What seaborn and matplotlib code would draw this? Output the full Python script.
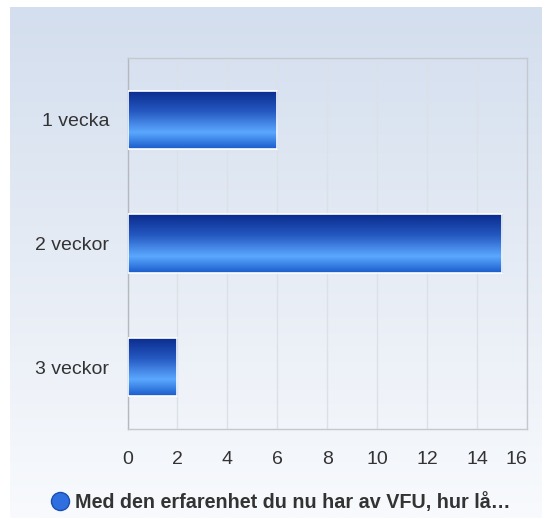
import matplotlib
matplotlib.use("Agg")
import matplotlib.pyplot as plt
import numpy as np
import pandas as pd
import seaborn as sns
from matplotlib.colors import LinearSegmentedColormap
from matplotlib.lines import Line2D

categories = ["1 vecka", "2 veckor", "3 veckor"]
counts = [6, 15, 2]
series_name = "Med den erfarenhet du nu har av VFU, hur lå…"
x_ticks = [0, 2, 4, 6, 8, 10, 12, 14, 16]

W, H = 542, 518

sns.set_theme(style="white")
plt.rcParams["font.family"] = ["Liberation Sans", "DejaVu Sans"]

fig = plt.figure(figsize=(W / 100, H / 100), dpi=100)
fig.patch.set_facecolor("white")

# soft blue page background
bg = fig.add_axes([10 / W, 0, 1 - 10 / W, 1 - 7 / H], zorder=-10)
bg_cmap = LinearSegmentedColormap.from_list("bg", ["#D3DEEE", "#E6ECF5", "#F8FAFD"])
bg.imshow(np.linspace(0, 1, 256).reshape(-1, 1), aspect="auto", cmap=bg_cmap,
          extent=[0, 1, 0, 1], origin="upper")
bg.axis("off")

ax = fig.add_axes([127.5 / W, 1 - 429 / H, 399.5 / W, 371 / H])
ax.patch.set_alpha(0)

df = pd.DataFrame({"category": categories, "count": counts})
sns.barplot(data=df, y="category", x="count", orient="h", color="#2E6FDB",
            width=0.47, ax=ax, zorder=3)

ax.set_xlim(0, 16)
xlim, ylim = ax.get_xlim(), ax.get_ylim()

# vertical gradient inside every bar
bar_cmap = LinearSegmentedColormap.from_list(
    "bar", [(0, "#0A2B8C"), (0.35, "#2457C0"), (0.72, "#5BA8FF"), (1, "#1A5CCB")])
grad = np.linspace(0, 1, 128).reshape(-1, 1)
for p in ax.patches:
    x0, y0 = p.get_x(), p.get_y()
    x1, y1 = x0 + p.get_width(), y0 + p.get_height()
    im = ax.imshow(grad, aspect="auto", cmap=bar_cmap, origin="upper",
                   extent=[x0, x1, y1, y0], zorder=3)
    im.set_clip_path(p)
    p.set_facecolor("none")
    p.set_edgecolor("white")
    p.set_linewidth(1.2)
    p.set_zorder(4)
ax.set_xlim(xlim)
ax.set_ylim(ylim)

ax.set_xticks(x_ticks)
ax.xaxis.grid(True, color="#DCE1E8", lw=1)
ax.set_axisbelow(True)
for side, spine in ax.spines.items():
    spine.set_visible(True)
    spine.set_color("#C5C9CF")
    spine.set_linewidth(1)
ax.spines["left"].set_color("#B5B9BF")
ax.tick_params(axis="x", length=0, pad=16, labelsize=14, labelcolor="#333333")
ax.tick_params(axis="y", length=0, pad=13, labelsize=14, labelcolor="#333333")
# last x label is pulled inside the plot edge, like the original
ax.get_xticklabels()[-1].set_horizontalalignment("right")
ax.set_xlabel("")
ax.set_ylabel("")

handle = Line2D([], [], marker="o", ls="", markersize=13,
                markerfacecolor="#2F6FE0", markeredgecolor="#1A4FB0")
leg = fig.legend([handle], [series_name], loc="center",
                 bbox_to_anchor=(281 / W, 1 - 502 / H), frameon=False,
                 prop={"weight": "bold", "size": 14.2}, handletextpad=0.3,
                 handlelength=0.9)
for t in leg.get_texts():
    t.set_color("#333333")

fig.savefig("out.png", dpi=100)
